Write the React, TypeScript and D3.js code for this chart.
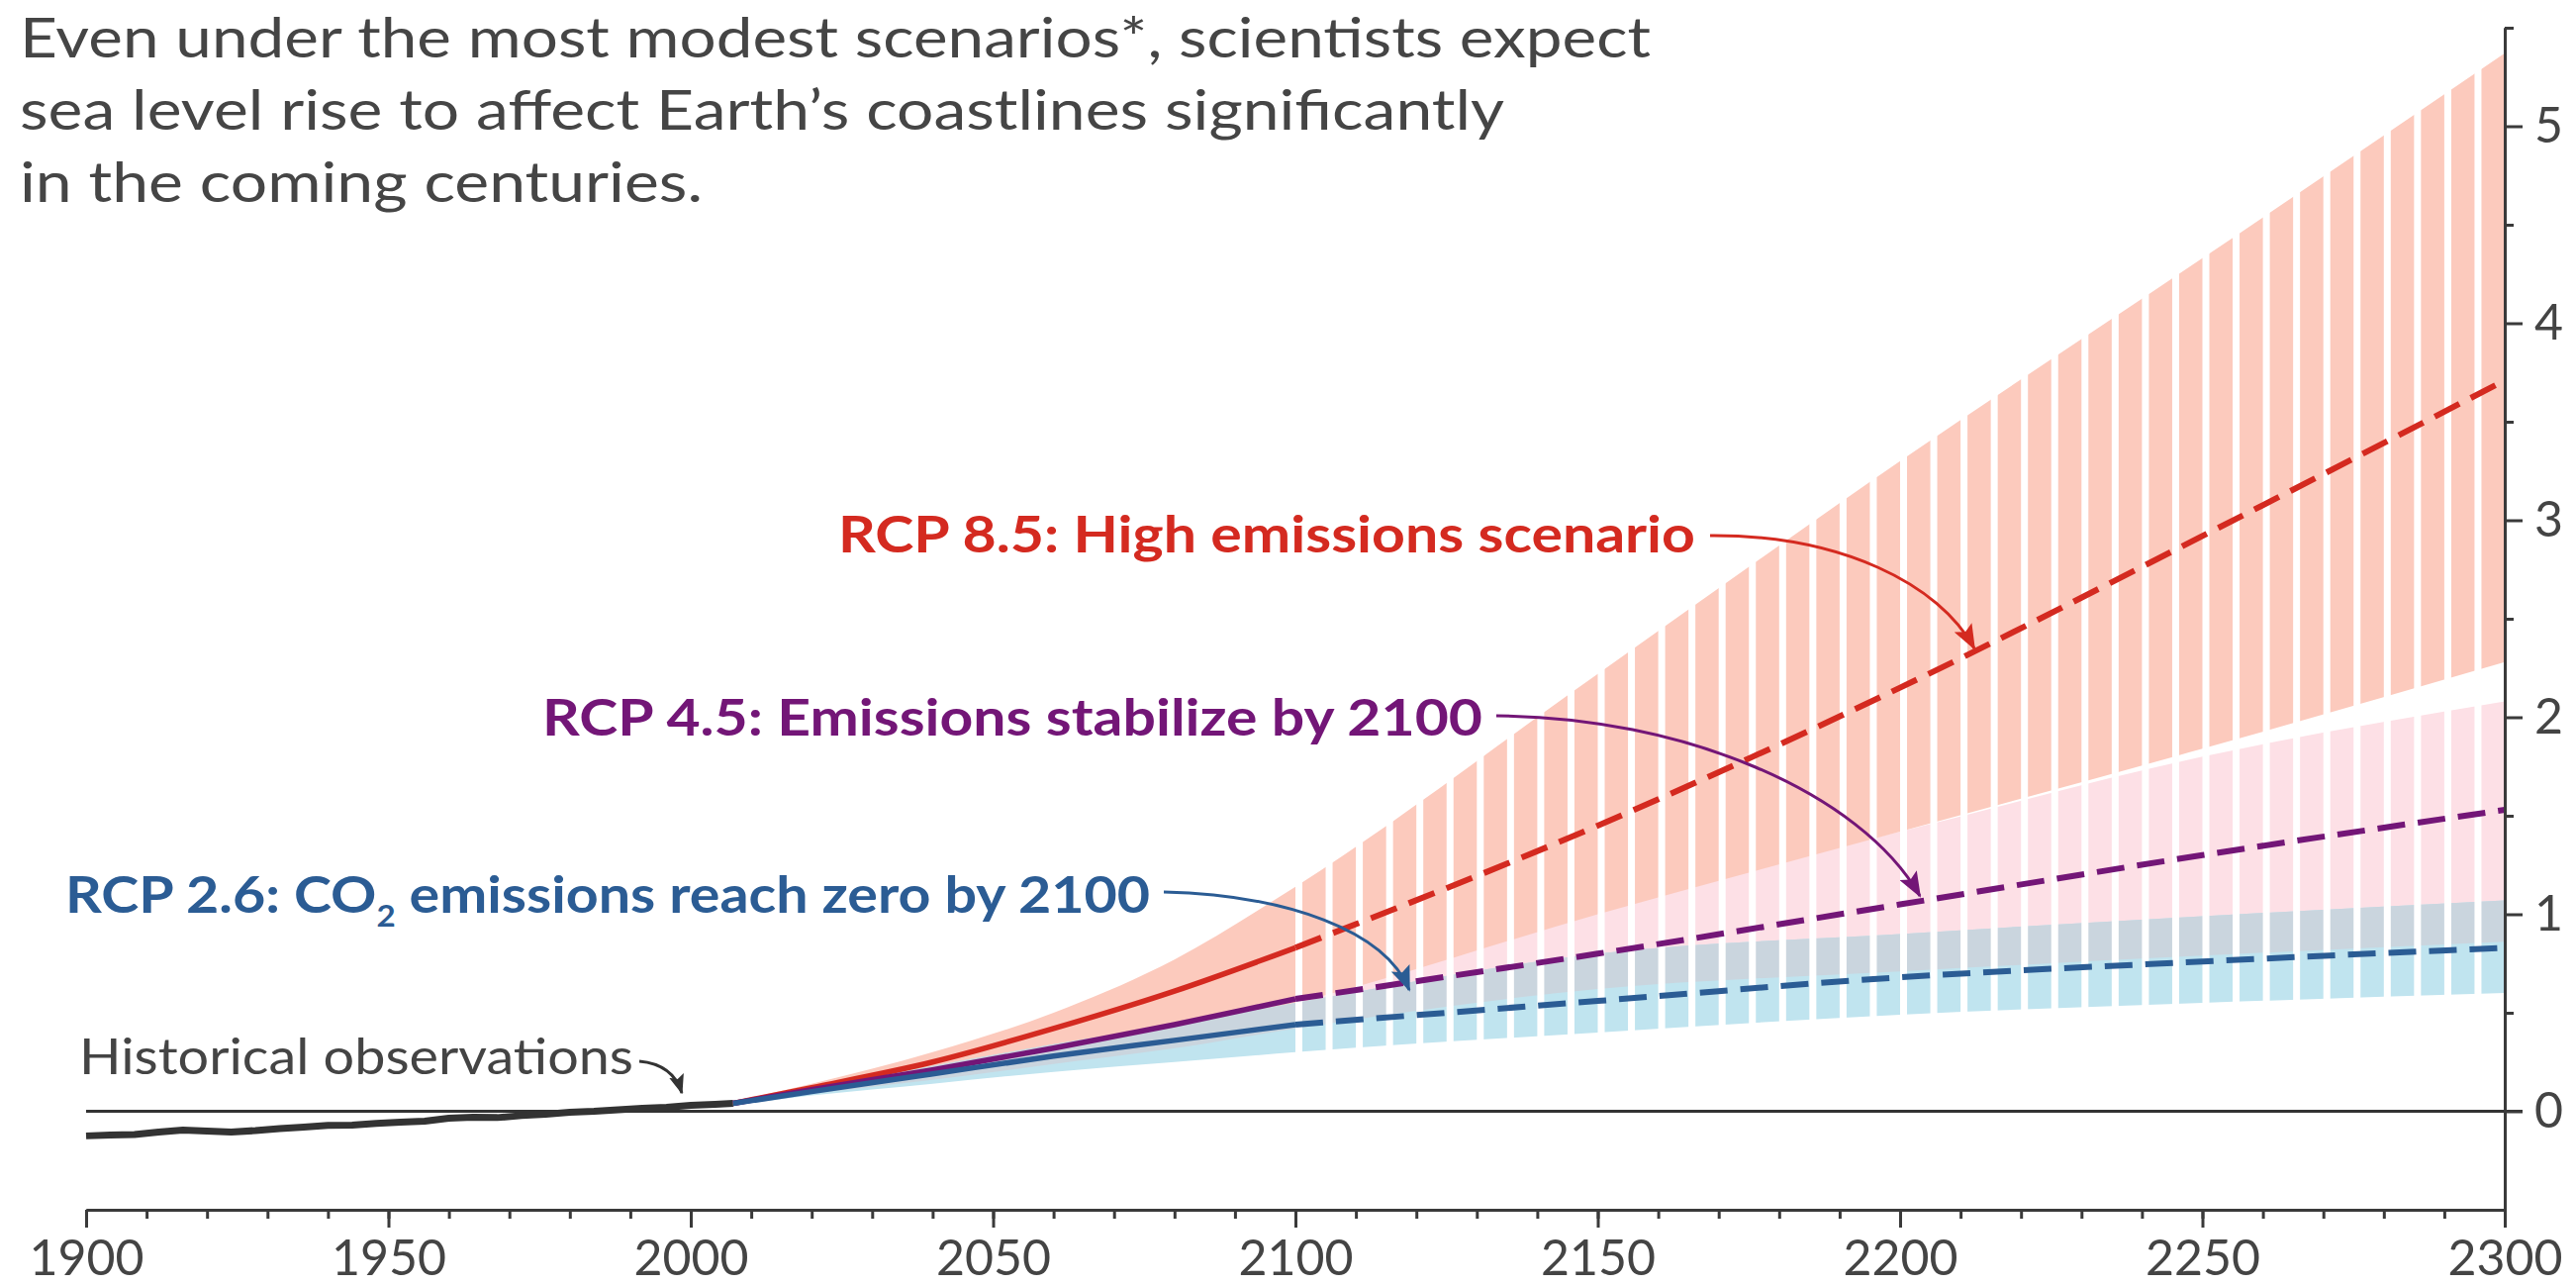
import React, { useEffect, useRef } from "react";
import * as d3 from "d3";

// tide gauge record (m, relative to 1986-2005)
const histYears = [1900, 1904, 1908, 1912, 1916, 1920, 1924, 1928, 1932, 1936, 1940, 1944, 1948, 1952, 1956, 1960, 1964, 1968, 1972, 1976, 1980, 1984, 1988, 1992, 1996, 2000, 2004, 2007];
const histValues = [-0.125, -0.12, -0.118, -0.105, -0.095, -0.1, -0.105, -0.098, -0.088, -0.08, -0.072, -0.07, -0.062, -0.055, -0.05, -0.035, -0.03, -0.032, -0.022, -0.015, -0.005, 0.0, 0.008, 0.015, 0.02, 0.03, 0.035, 0.04];

// projections
const projYears = [2007, 2020, 2040, 2060, 2080, 2100, 2150, 2200, 2250, 2300];
const rcp85Mid = [0.04, 0.12, 0.25, 0.42, 0.61, 0.83, 1.45, 2.15, 2.92, 3.71];
const rcp85Hi = [0.05, 0.14, 0.3, 0.5, 0.77, 1.14, 2.22, 3.3, 4.33, 5.37];
const rcp85Lo = [0.04, 0.1, 0.19, 0.29, 0.41, 0.55, 1.0, 1.42, 1.84, 2.28];
const rcp45Mid = [0.04, 0.11, 0.21, 0.32, 0.44, 0.57, 0.8, 1.05, 1.3, 1.53];
const rcp45Hi = [0.05, 0.12, 0.25, 0.39, 0.55, 0.72, 1.05, 1.42, 1.8, 2.08];
const rcp45Lo = [0.04, 0.09, 0.16, 0.24, 0.32, 0.42, 0.62, 0.71, 0.79, 0.86];
const rcp26Mid = [0.04, 0.1, 0.19, 0.28, 0.36, 0.44, 0.56, 0.68, 0.76, 0.83];
const rcp26Hi = [0.05, 0.12, 0.23, 0.34, 0.44, 0.55, 0.8, 0.9, 0.99, 1.07];
const rcp26Lo = [0.03, 0.08, 0.14, 0.2, 0.25, 0.3, 0.4, 0.49, 0.55, 0.6];

const xMajor = [1900, 1950, 2000, 2050, 2100, 2150, 2200, 2250, 2300];
const yMajor = [0, 1, 2, 3, 4, 5];
const yMinor = [0.5, 1.5, 2.5, 3.5, 4.5, 5.5];

const titleLines = [
  "Even under the most modest scenarios*, scientists expect",
  "sea level rise to affect Earth\u2019s coastlines significantly",
  "in the coming centuries.",
];
const titleWidths = [1648, 1500, 690];

const RED = "#d42a20";
const PURPLE = "#731677";
const BLUE = "#2b5c94";
const INK = "#3a3a3a";
const FONT = "Lato, 'Open Sans', sans-serif";

const App = () => {
  const chartRef = useRef<SVGSVGElement>(null);

  useEffect(() => {
    const svg = d3.select(chartRef.current);
    svg.selectAll("*").remove();

    const x = d3.scaleLinear().domain([1900, 2300]).range([87, 2531]);
    const y = d3.scaleLinear().domain([-0.5, 5.5]).range([1222, 28]);

    const defs = svg.append("defs");
    [["red", RED], ["purple", PURPLE], ["blue", BLUE], ["ink", "#333"]].forEach(([id, c]) => {
      defs
        .append("marker")
        .attr("id", "head-" + id)
        .attr("viewBox", "0 0 26 20")
        .attr("refX", 24)
        .attr("refY", 10)
        .attr("markerWidth", id === "ink" ? 20 : 26)
        .attr("markerHeight", id === "ink" ? 16 : 20)
        .attr("markerUnits", "userSpaceOnUse")
        .attr("orient", "auto")
        .append("path")
        .attr("d", "M0,0 L26,10 L0,20 L5,10 Z")
        .attr("fill", c);
    });

    const band = (lo: number[], hi: number[]) =>
      d3
        .area<number>()
        .x((d) => x(d))
        .y0((d, i) => y(lo[i]))
        .y1((d, i) => y(hi[i]))
        .curve(d3.curveMonotoneX)(projYears);

    const overlapLo = projYears.map((_, i) => Math.max(rcp26Lo[i], rcp45Lo[i]));
    const overlapHi = projYears.map((_, i) => Math.min(rcp26Hi[i], rcp45Hi[i]));

    const bands = svg.append("g");
    bands.append("path").attr("d", band(rcp45Lo, rcp45Hi)).attr("fill", "#fde0e6");
    bands.append("path").attr("d", band(rcp85Lo, rcp85Hi)).attr("fill", "#fccabd");
    bands.append("path").attr("d", band(rcp26Lo, rcp26Hi)).attr("fill", "#c0e4ef");
    bands.append("path").attr("d", band(overlapLo, overlapHi)).attr("fill", "#cad5de");

    // white gaps that turn the post-2100 ranges into stripes
    svg
      .append("g")
      .selectAll("rect")
      .data(d3.range(2100, 2300, 5))
      .join("rect")
      .attr("x", (d) => x(d))
      .attr("y", y(5.5))
      .attr("width", 7)
      .attr("height", y(0.15) - y(5.5))
      .attr("fill", "#fff");

    // zero line
    svg
      .append("line")
      .attr("x1", x(1900))
      .attr("x2", x(2300) + 18)
      .attr("y1", y(0))
      .attr("y2", y(0))
      .attr("stroke", "#333")
      .attr("stroke-width", 3);

    // historical observations
    const histLine = d3
      .line<number>()
      .x((d) => x(d))
      .y((d, i) => y(histValues[i]));
    svg
      .append("path")
      .attr("d", histLine(histYears))
      .attr("fill", "none")
      .attr("stroke", "#333")
      .attr("stroke-width", 7)
      .attr("stroke-linejoin", "round");

    const series = [
      { vals: rcp85Mid, color: RED },
      { vals: rcp45Mid, color: PURPLE },
      { vals: rcp26Mid, color: BLUE },
    ];
    series.forEach((s) => {
      const pts = projYears.map((yr, i) => [yr, s.vals[i]] as [number, number]);
      const line = d3
        .line<[number, number]>()
        .x((d) => x(d[0]))
        .y((d) => y(d[1]))
        .curve(d3.curveMonotoneX);
      svg
        .append("path")
        .attr("d", line(pts.filter((p) => p[0] <= 2100)))
        .attr("fill", "none")
        .attr("stroke", s.color)
        .attr("stroke-width", 5.5);
      svg
        .append("path")
        .attr("d", line(pts.filter((p) => p[0] >= 2100)))
        .attr("fill", "none")
        .attr("stroke", s.color)
        .attr("stroke-width", 6)
        .attr("stroke-dasharray", "28 13");
    });

    // callout arrows
    const arrows = [
      { d: "M1728,541 C1860,540 1960,590 1995,655", id: "red", c: RED },
      { d: "M1512,723 C1700,724 1880,800 1940,905", id: "purple", c: PURPLE },
      { d: "M1176,901 C1300,904 1400,940 1424,1000", id: "blue", c: BLUE },
      { d: "M646,1072 Q680,1075 689,1104", id: "ink", c: "#333" },
    ];
    svg
      .append("g")
      .selectAll("path")
      .data(arrows)
      .join("path")
      .attr("d", (d) => d.d)
      .attr("fill", "none")
      .attr("stroke", (d) => d.c)
      .attr("stroke-width", 3)
      .attr("marker-end", (d) => `url(#head-${d.id})`);

    // labels
    const label = (tx: number, ty: number, color: string, text: string, width: number, weight = "bold", size = 52) =>
      svg
        .append("text")
        .attr("x", tx)
        .attr("y", ty)
        .attr("fill", color)
        .attr("font-family", FONT)
        .attr("font-weight", weight)
        .attr("font-size", size)
        .attr("textLength", width)
        .attr("lengthAdjust", "spacingAndGlyphs")
        .text(text);

    label(847, 558, RED, "RCP 8.5: High emissions scenario", 866);
    label(548, 743, PURPLE, "RCP 4.5: Emissions stabilize by 2100", 950);
    const co2 = label(66, 922, BLUE, "RCP 2.6: CO", 1096);
    co2.append("tspan").attr("font-size", 30).attr("dy", 14).text("2");
    co2.append("tspan").attr("dy", -14).text(" emissions reach zero by 2100");
    label(80, 1085, "#444", "Historical observations", 560, "normal", 50);

    svg
      .append("g")
      .selectAll("text")
      .data(titleLines)
      .join("text")
      .attr("x", 20)
      .attr("y", (d, i) => 58 + i * 73)
      .attr("fill", "#454545")
      .attr("font-family", FONT)
      .attr("font-size", 57)
      .attr("textLength", (d, i) => titleWidths[i])
      .attr("lengthAdjust", "spacingAndGlyphs")
      .text((d) => d);

    // axes
    const styleAxis = (g: d3.Selection<SVGGElement, unknown, null, undefined>) => {
      g.selectAll(".domain").attr("stroke", INK).attr("stroke-width", 3);
      g.selectAll(".tick line").attr("stroke", INK).attr("stroke-width", 3);
      g.selectAll("text").attr("fill", "#444").attr("font-family", FONT).attr("font-size", 50);
    };

    const xMinorAxis = svg
      .append("g")
      .attr("transform", `translate(0,${y(-0.5)})`)
      .call(d3.axisBottom(x).tickValues(d3.range(1900, 2301, 10)).tickSize(9).tickSizeOuter(0).tickFormat(() => ""));
    styleAxis(xMinorAxis);
    const xAxis = svg
      .append("g")
      .attr("transform", `translate(0,${y(-0.5)})`)
      .call(d3.axisBottom(x).tickValues(xMajor).tickSize(18).tickSizeOuter(0).tickPadding(12).tickFormat(d3.format("d")));
    styleAxis(xAxis);

    const yMinorAxis = svg
      .append("g")
      .attr("transform", `translate(${x(2300)},0)`)
      .call(d3.axisRight(y).tickValues(yMinor).tickSize(9).tickSizeOuter(0).tickFormat(() => ""));
    styleAxis(yMinorAxis);
    const yAxis = svg
      .append("g")
      .attr("transform", `translate(${x(2300)},0)`)
      .call(d3.axisRight(y).tickValues(yMajor).tickSize(18).tickSizeOuter(0).tickPadding(12).tickFormat(d3.format("d")));
    styleAxis(yAxis);
  }, []);

  return (
    <div style={{ position: "absolute", left: 0, top: 0 }}>
      <svg ref={chartRef} width={2603} height={1299} style={{ display: "block", background: "#fff" }}></svg>
    </div>
  );
};

export default App;
